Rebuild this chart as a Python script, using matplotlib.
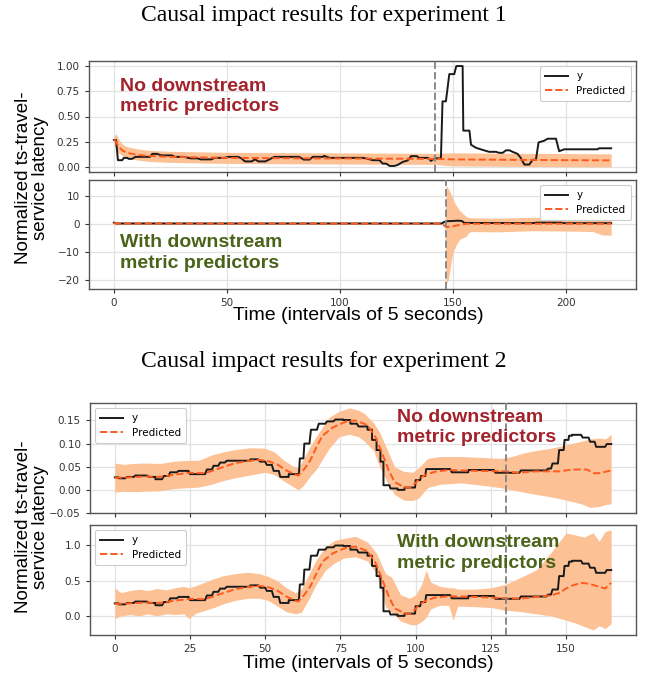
import numpy as np
import matplotlib
matplotlib.use("Agg")
import matplotlib.pyplot as plt

# ---------------- experiment 1 ----------------
# top panel: no downstream metric predictors
e1a_t = [0, 1, 1.8, 3.7, 4.4, 5.9, 6.6, 8, 9.6, 16, 17, 19, 21, 25.6, 27, 31, 34, 37, 38.5, 43,
         44.7, 49, 50.5, 55, 56.4, 58, 61, 62.4, 64, 67, 68.4, 71, 82, 84, 86.6, 88, 92.5, 93,
         95.5, 110, 111.5, 114.5, 117.5, 119, 120.5, 122, 124, 125.6, 127.8, 130, 131.5, 134,
         135, 139, 140.3, 141.8, 144.7, 145.4, 146.9, 148.4, 150.6, 151.5, 153.3, 154.3, 154.6,
         157.3, 158, 160.2, 163, 166, 169, 170.5, 172, 173.5, 175, 176.4, 178.6, 180, 181.6,
         183.8, 185.3, 186.7, 187.9, 190.4, 191.9, 195.6, 197, 199.3, 214, 214.6, 220]
e1a_y = [0.266, 0.266, 0.067, 0.067, 0.09, 0.09, 0.08, 0.08, 0.10, 0.10, 0.13, 0.13, 0.115, 0.115,
         0.10, 0.10, 0.085, 0.085, 0.075, 0.075, 0.09, 0.09, 0.10, 0.10, 0.085, 0.055, 0.055,
         0.075, 0.055, 0.055, 0.07, 0.10, 0.10, 0.073, 0.073, 0.10, 0.10, 0.11, 0.09, 0.09, 0.085,
         0.067, 0.067, 0.033, 0.033, 0.01, 0.01, 0.02, 0.05, 0.065, 0.107, 0.107, 0.09, 0.09, 0.06,
         0.085, 0.085, 0.65, 0.65, 0.92, 0.92, 1.0, 1.0, 1.0, 0.36, 0.36, 0.22, 0.19, 0.17, 0.15,
         0.15, 0.14, 0.14, 0.165, 0.165, 0.15, 0.13, 0.09, 0.024, 0.024, 0.072, 0.07, 0.243, 0.26,
         0.28, 0.28, 0.156, 0.175, 0.175, 0.185, 0.185]
e1a_pt = [0, 1, 2, 4, 6, 10, 15, 25, 50, 90, 142, 150, 180, 220]
e1a_pred = [0.27, 0.25, 0.20, 0.16, 0.14, 0.12, 0.11, 0.10, 0.09, 0.085, 0.08, 0.075, 0.07, 0.065]
e1a_lo = [0.22, 0.18, 0.14, 0.11, 0.09, 0.07, 0.055, 0.045, 0.035, 0.03, 0.025, 0.01, 0.005, 0.0]
e1a_hi = [0.30, 0.33, 0.28, 0.22, 0.20, 0.18, 0.165, 0.155, 0.145, 0.14, 0.135, 0.14, 0.135, 0.13]
e1a_int = 142

# bottom panel: with downstream metric predictors
e1b_t = [0, 1, 145, 146, 147, 150, 152, 154, 155, 185, 187, 198, 199, 220]
e1b_y = [0.4, 0.1, 0.1, 0.6, 0.9, 1.0, 1.1, 1.0, 0.3, 0.2, 0.4, 0.4, 0.2, 0.2]
e1b_pt = [0, 1, 145, 147, 150, 153, 156, 220]
e1b_pred = [0.3, 0.1, 0.05, -1.2, -0.9, -0.4, 0.0, 0.0]
e1b_bt = [0, 5, 146.5, 147, 148, 149, 150, 151.5, 153, 155, 156, 157, 158, 170, 185, 200, 212,
          216, 220]
e1b_lo = [-0.4, -0.2, -0.2, -21.6, -20, -15, -10.2, -7.5, -5.6, -4.8, -4.4, -3.2, -2.8, -2.9,
          -2.5, -2.6, -2.8, -4.0, -4.1]
e1b_hi = [0.9, 0.4, 0.4, 13.9, 12.5, 11, 8.7, 6.5, 4.7, 3.2, 2.5, 2.3, 2.1, 2.0, 2.3, 2.4, 2.3,
          2.2, 2.2]
e1b_int = 147

# ---------------- experiment 2 ----------------
e2_t = [0, 1.3, 1.3, 3.5, 4, 6.3, 6.8, 10.7, 11.3, 13.5, 13.5, 15.7, 16.3, 17.9, 18.4, 20.6, 21.2,
        24.5, 25, 30, 30.6, 32.3, 32.8, 34.4, 35, 36.6, 37.2, 45, 45, 47.7, 48.3, 50, 50.5, 52.2,
        52.8, 54.5, 55, 57.8, 57.8, 61.2, 61.5, 62.7, 63, 64.7, 65.2, 67.2, 67.8, 70, 70.5, 72.7,
        73.3, 76, 76, 78.3, 78.3, 80.5, 81, 84, 84, 85.5, 85.5, 87, 87, 88.3, 88.3, 89.3, 89.3,
        91.3, 91.6, 94, 94, 96.3, 96.3, 99.8, 100, 101.5, 101.8, 103.2, 103.5, 111.5, 112, 117.5,
        117.5, 126, 126.5, 134.5, 135, 143.5, 144, 145, 145.5, 147.3, 147.7, 149.2, 149.5, 150.8,
        151, 152, 152, 155, 155.5, 157.5, 158, 159.5, 160, 163, 163.5, 165]
e2a_y = [0.027, 0.027, 0.025, 0.025, 0.028, 0.028, 0.031, 0.031, 0.028, 0.028, 0.023, 0.023,
         0.030, 0.030, 0.038, 0.038, 0.041, 0.041, 0.034, 0.034, 0.044, 0.044, 0.052, 0.052,
         0.059, 0.059, 0.063, 0.063, 0.066, 0.066, 0.061, 0.061, 0.054, 0.054, 0.041, 0.041,
         0.028, 0.028, 0.034, 0.034, 0.068, 0.068, 0.10, 0.10, 0.13, 0.13, 0.143, 0.143, 0.148,
         0.148, 0.152, 0.152, 0.151, 0.151, 0.143, 0.143, 0.137, 0.137, 0.13, 0.13, 0.108, 0.108,
         0.086, 0.086, 0.061, 0.061, 0.010, 0.010, 0.003, 0.003, 0.0, 0.0, 0.005, 0.005, 0.021,
         0.021, 0.03, 0.03, 0.045, 0.045, 0.038, 0.038, 0.043, 0.043, 0.037, 0.037, 0.042, 0.042,
         0.046, 0.046, 0.057, 0.057, 0.086, 0.086, 0.108, 0.108, 0.117, 0.117, 0.119, 0.119,
         0.113, 0.113, 0.104, 0.104, 0.093, 0.093, 0.099, 0.099]
e2a_pt = [0, 5, 10, 15, 20, 25, 30, 35, 40, 45, 48, 51, 54, 57, 60, 61, 63, 65, 67, 69, 72.5, 77,
          80, 84, 86.6, 88.8, 91, 93, 96.4, 98.6, 100.8, 103, 106.4, 111, 120, 130, 134, 140, 148,
          152, 157, 159, 161, 165]
e2a_pred = [0.026, 0.027, 0.029, 0.028, 0.033, 0.037, 0.036, 0.047, 0.058, 0.063, 0.065, 0.062,
            0.055, 0.042, 0.033, 0.031, 0.045, 0.064, 0.092, 0.117, 0.135, 0.148, 0.150, 0.14,
            0.115, 0.08, 0.043, 0.017, 0.005, 0.005, 0.021, 0.032, 0.039, 0.043, 0.041, 0.040,
            0.037, 0.040, 0.040, 0.044, 0.044, 0.036, 0.036, 0.042]
e2a_bt = [0, 3, 6, 10, 15, 20, 25, 28, 32, 36, 40, 45, 50, 53, 56, 59, 61, 62.5, 65, 67, 71.3, 74.6,
          78, 81, 83, 86, 88, 91, 93, 96, 99, 101, 104, 108, 115, 122, 128, 132, 136, 140, 145,
          150, 155, 158, 161, 163, 165]
e2a_lo = [-0.005, -0.003, -0.004, -0.003, -0.002, 0.003, 0.005, 0.006, 0.012, 0.02, 0.026, 0.032,
          0.038, 0.033, 0.020, 0.008, 0.0, 0.008, 0.03, 0.045, 0.09, 0.115, 0.12, 0.115, 0.105,
          0.085, 0.05, 0.01, -0.01, -0.022, -0.023, -0.018, 0.005, 0.012, 0.015, 0.010, 0.005,
          0.0, -0.005, -0.010, -0.015, -0.022, -0.030, -0.038, -0.036, -0.032, -0.030]
e2a_hi = [0.058, 0.055, 0.057, 0.058, 0.057, 0.062, 0.064, 0.064, 0.075, 0.082, 0.087, 0.091,
          0.090, 0.082, 0.065, 0.052, 0.047, 0.065, 0.095, 0.116, 0.157, 0.17, 0.177, 0.172, 0.165,
          0.145, 0.125, 0.08, 0.05, 0.040, 0.038, 0.048, 0.068, 0.072, 0.072, 0.070, 0.068, 0.072,
          0.080, 0.085, 0.090, 0.097, 0.105, 0.110, 0.112, 0.110, 0.120]

e2b_y = [0.178, 0.178, 0.164, 0.164, 0.184, 0.184, 0.204, 0.204, 0.184, 0.184, 0.151, 0.151,
         0.197, 0.197, 0.25, 0.25, 0.27, 0.27, 0.224, 0.224, 0.29, 0.29, 0.342, 0.342, 0.388,
         0.388, 0.414, 0.414, 0.434, 0.434, 0.401, 0.401, 0.355, 0.355, 0.27, 0.27, 0.184, 0.184,
         0.224, 0.224, 0.447, 0.447, 0.658, 0.658, 0.855, 0.855, 0.941, 0.941, 0.974, 0.974, 1.0,
         1.0, 0.993, 0.993, 0.941, 0.941, 0.90, 0.90, 0.855, 0.855, 0.71, 0.71, 0.566, 0.566, 0.40,
         0.40, 0.066, 0.066, 0.02, 0.02, 0.0, 0.0, 0.033, 0.033, 0.138, 0.138, 0.197, 0.197, 0.296,
         0.296, 0.25, 0.25, 0.283, 0.283, 0.243, 0.243, 0.276, 0.276, 0.303, 0.303, 0.375, 0.375,
         0.566, 0.566, 0.71, 0.71, 0.77, 0.77, 0.783, 0.783, 0.743, 0.743, 0.684, 0.684, 0.612,
         0.612, 0.651, 0.651]
e2b_pt = [0, 5, 10, 15, 20, 25, 30, 35, 40, 45, 48, 51, 54, 57, 60, 61, 63, 65, 67, 69, 72.5, 77,
          80, 84, 86.6, 88.8, 91, 93, 96.4, 98.6, 100.8, 103, 106.4, 111, 120, 130, 135, 140, 145,
          148, 150, 152, 155, 157, 159, 162, 163, 165]
e2b_pred = [0.17, 0.178, 0.19, 0.184, 0.217, 0.243, 0.237, 0.31, 0.38, 0.415, 0.428, 0.408, 0.36,
            0.276, 0.217, 0.204, 0.30, 0.42, 0.60, 0.77, 0.89, 0.97, 0.985, 0.92, 0.76, 0.53, 0.28,
            0.11, 0.033, 0.033, 0.14, 0.21, 0.26, 0.28, 0.27, 0.25, 0.245, 0.27, 0.29, 0.33, 0.39,
            0.43, 0.47, 0.46, 0.44, 0.40, 0.39, 0.47]
e2b_bt = [0, 2, 5, 8, 11, 14, 17, 20, 23, 24.6, 27, 30, 33, 36, 40, 44, 48, 51, 54, 57, 60, 62, 64,
          67, 70, 73, 76, 80, 84, 87, 90, 92, 95, 98, 100, 102, 103.5, 105, 108, 111, 112.5, 114,
          120, 125, 130, 135, 140, 145, 150, 153, 156, 159, 161, 163, 165]
e2b_lo = [-0.04, 0.0, 0.02, 0.0, 0.03, 0.0, 0.03, 0.02, 0.03, -0.04, 0.04, 0.08, 0.12, 0.17, 0.22,
          0.25, 0.25, 0.22, 0.14, 0.06, 0.03, 0.05, 0.20, 0.45, 0.65, 0.75, 0.82, 0.84, 0.78,
          0.60, 0.13, 0.05, -0.07, -0.12, -0.13, -0.08, -0.02, 0.10, 0.15, 0.15, -0.06, 0.14,
          0.13, 0.12, 0.08, 0.06, 0.03, 0.0, -0.06, -0.10, -0.15, -0.20, -0.14, -0.18, -0.11]
e2b_hi = [0.40, 0.33, 0.36, 0.38, 0.36, 0.39, 0.37, 0.40, 0.42, 0.40, 0.43, 0.48, 0.53, 0.57, 0.60,
          0.62, 0.60, 0.56, 0.50, 0.40, 0.33, 0.38, 0.55, 0.80, 0.98, 1.07, 1.10, 1.13, 1.05, 0.89,
          0.60, 0.55, 0.30, 0.25, 0.30, 0.45, 0.65, 0.48, 0.42, 0.40, 0.40, 0.38, 0.38, 0.40, 0.45,
          0.55, 0.65, 0.90, 1.18, 1.15, 1.12, 1.18, 1.06, 1.20, 1.22]
e2_int = 130

titles = ["Causal impact results for experiment 1", "Causal impact results for experiment 2"]
ylab = "Normalized ts-travel-\nservice latency"
xlab = "Time (intervals of 5 seconds)"
no_txt = "No downstream\nmetric predictors"
with_txt = "With downstream\nmetric predictors"

BAND = "#fdc196"
PRED = "#ff5a1f"
RED = "#a3222b"
GREEN = "#4b6319"

W, H = 645, 679
fig = plt.figure(figsize=(W / 100, H / 100), dpi=100)


def box(l, t, r, b):
    return [l / W, 1 - b / H, (r - l) / W, (b - t) / H]


def panel(rect, t, y, pt, pred, bt, lo, hi, tint, xlim, sharex=None):
    ax = fig.add_axes(rect, sharex=sharex)
    ax.grid(True, color="#e2e2e2", lw=0.9, zorder=0)
    ax.set_axisbelow(True)
    ax.fill_between(bt, lo, hi, color=BAND, lw=0, zorder=1)
    ax.plot(t, y, color="#1a1a1a", lw=1.4, label="y", zorder=3)
    ax.plot(pt, pred, color=PRED, lw=1.4, ls="--", label="Predicted", zorder=4)
    ax.axvline(tint, color="#8a8a8a", lw=1.4, ls="--", zorder=5)
    ax.set_xlim(*xlim)
    ax.tick_params(labelsize=7.5, colors="#333333", length=3, width=0.8)
    for s in ax.spines.values():
        s.set_color("#555555")
        s.set_linewidth(1.0)
    return ax


def legend(ax, loc):
    lg = ax.legend(loc=loc, fontsize=7.5, frameon=True, framealpha=1, edgecolor="#cccccc",
                   fancybox=True, handlelength=2.2, borderpad=0.5, labelspacing=0.4)
    lg.get_frame().set_linewidth(0.8)


def note(ax, x, y, s, c):
    ax.text(x, y, s, transform=ax.transAxes, color=c, fontsize=14, weight="bold",
            family="Liberation Sans", va="center", ha="left", linespacing=1.25, zorder=6)


xl1 = (-11, 231)
xl2 = (-8.25, 173.25)

a1 = panel(box(89, 61, 636, 172), e1a_t, e1a_y, e1a_pt, e1a_pred, e1a_pt, e1a_lo, e1a_hi,
           e1a_int, xl1)
a1.set_yticks([0, 0.25, 0.5, 0.75, 1.0])
a1.set_yticklabels(["0.00", "0.25", "0.50", "0.75", "1.00"])
a1.set_ylim(-0.05, 1.05)
a1.set_xticks([0, 50, 100, 150, 200])
a1.tick_params(labelbottom=False)
legend(a1, "upper right")
note(a1, 0.057, 0.68, no_txt, RED)

a2 = panel(box(89, 180, 636, 289), e1b_t, e1b_y, e1b_pt, e1b_pred, e1b_bt, e1b_lo, e1b_hi,
           e1b_int, xl1, sharex=a1)
a2.set_yticks([-20, -10, 0, 10])
legend(a2, "upper right")
note(a2, 0.057, 0.33, with_txt, GREEN)

a3 = panel(box(90, 403, 636, 513), e2_t, e2a_y, e2a_pt, e2a_pred, e2a_bt, e2a_lo, e2a_hi,
           e2_int, xl2)
a3.set_yticks([-0.05, 0, 0.05, 0.10, 0.15])
a3.set_yticklabels(["\u22120.05", "0.00", "0.05", "0.10", "0.15"])
a3.set_xticks([0, 25, 50, 75, 100, 125, 150])
a3.tick_params(labelbottom=False)
legend(a3, "upper left")
note(a3, 0.563, 0.775, no_txt, RED)

a4 = panel(box(90, 525, 636, 635), e2_t, e2b_y, e2b_pt, e2b_pred, e2b_bt, e2b_lo, e2b_hi,
           e2_int, xl2, sharex=a3)
a4.set_yticks([0, 0.5, 1.0])
legend(a4, "upper left")
note(a4, 0.563, 0.745, with_txt, GREEN)

for y, s in [(15, titles[0]), (362, titles[1])]:
    fig.text(0.502, 1 - y / H, s, ha="center", va="center", fontsize=17, family="Liberation Serif")
for y in (178, 527):
    fig.text(32 / W, 1 - y / H, ylab, rotation=90, ha="center", va="center", fontsize=13.5,
             family="Liberation Sans", multialignment="center", linespacing=1.0)
for x, y in ((358, 316), (368, 664)):
    fig.text(x / W, 1 - y / H, xlab, ha="center", va="center", fontsize=14,
             family="Liberation Sans")

fig.savefig("out.png", dpi=100)
